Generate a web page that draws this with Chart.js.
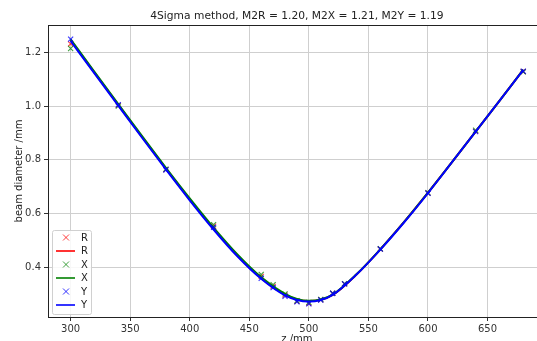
<!DOCTYPE html>
<html>
<head>
<meta charset="utf-8">
<script src="https://cdn.jsdelivr.net/npm/chart.js@4.4.1/dist/chart.umd.min.js"></script>
<style>
  html, body { margin: 0; padding: 0; background: #fff; overflow: hidden; }
  #wrap { width: 551px; height: 350px; }
</style>
</head>
<body>
<div id="wrap"><canvas id="beamChart" width="551" height="350"></canvas></div>
<script>
// ===== Data =====
const zPos = [300, 340, 380, 420, 460, 470, 480, 490, 500, 510, 520, 530, 560, 600, 640, 680];
const measR = [1.232, 1.003, 0.763, 0.552, 0.365, 0.328, 0.295, 0.272, 0.265, 0.278, 0.302, 0.337, 0.467, 0.676, 0.907, 1.129];
const measX = [1.215, 1.000, 0.765, 0.558, 0.372, 0.334, 0.300, 0.274, 0.268, 0.279, 0.302, 0.338, 0.468, 0.677, 0.910, 1.128];
const measY = [1.250, 1.005, 0.762, 0.548, 0.358, 0.323, 0.291, 0.270, 0.263, 0.277, 0.302, 0.337, 0.467, 0.675, 0.905, 1.130];

const zFit = [300, 320, 340, 360, 380, 400, 420, 440, 460, 480, 490, 500, 510, 520, 540, 560, 580, 600, 620, 640, 660, 680];
const fitR = [1.246, 1.125, 1.005, 0.885, 0.767, 0.652, 0.543, 0.443, 0.358, 0.297, 0.279, 0.273, 0.278, 0.296, 0.372, 0.466, 0.568, 0.677, 0.790, 0.905, 1.020, 1.136];
const fitX = [1.249, 1.128, 1.008, 0.888, 0.770, 0.656, 0.547, 0.447, 0.362, 0.300, 0.281, 0.274, 0.279, 0.297, 0.373, 0.466, 0.568, 0.677, 0.790, 0.905, 1.020, 1.136];
const fitY = [1.243, 1.122, 1.002, 0.882, 0.764, 0.649, 0.540, 0.440, 0.356, 0.294, 0.277, 0.271, 0.277, 0.296, 0.372, 0.465, 0.567, 0.676, 0.790, 0.905, 1.020, 1.135];

const xTicks = [300, 350, 400, 450, 500, 550, 600, 650];
const yTicks = [0.4, 0.6, 0.8, 1.0, 1.2];

const titleText = '4Sigma method, M2R = 1.20, M2X = 1.21, M2Y = 1.19';

const RED = '#ff0000', GREEN = '#008000', BLUE = '#0000ff';
const RED_M = 'rgba(255,0,0,0.75)', GREEN_M = 'rgba(0,128,0,0.75)', BLUE_M = 'rgba(0,0,255,0.8)';

const pts = (xs, ys) => xs.map((x, i) => ({ x, y: ys[i] }));

const markerSet = (label, ys, color, order) => ({
    label, data: pts(zPos, ys), showLine: false,
    pointStyle: 'crossRot', pointRadius: 3.6, pointBorderWidth: 1.1,
    borderColor: color, backgroundColor: color, order
});
const lineSet = (label, ys, color, order) => ({
    label, data: pts(zFit, ys), showLine: true, pointRadius: 0,
    borderColor: color, borderWidth: 2, cubicInterpolationMode: 'monotone', order
});

// ===== Extra drawing: title, top spine, legend box =====
const decor = {
    id: 'decor',
    afterDraw(chart) {
        const { ctx, chartArea: a } = chart;
        ctx.save();
        // top spine
        ctx.strokeStyle = '#222';
        ctx.lineWidth = 1;
        ctx.beginPath();
        ctx.moveTo(a.left, a.top + 0.5);
        ctx.lineTo(a.right, a.top + 0.5);
        ctx.stroke();

        // title
        ctx.fillStyle = '#222';
        ctx.font = '10.7px "DejaVu Sans"';
        ctx.textAlign = 'center';
        ctx.textBaseline = 'middle';
        ctx.fillText(titleText, (a.left + a.right) / 2, 16.5);

        // legend
        const bx = 52, by = 230, bw = 39, bh = 84;
        ctx.fillStyle = 'rgba(255,255,255,0.85)';
        ctx.strokeStyle = '#d0d0d0';
        ctx.beginPath();
        ctx.roundRect(bx + 0.5, by + 0.5, bw, bh, 2);
        ctx.fill();
        ctx.stroke();

        const entries = [
            ['R', RED_M, 'marker'], ['R', RED, 'line'],
            ['X', GREEN_M, 'marker'], ['X', GREEN, 'line'],
            ['Y', BLUE_M, 'marker'], ['Y', BLUE, 'line']
        ];
        ctx.font = '10px "DejaVu Sans"';
        ctx.textAlign = 'left';
        entries.forEach(([txt, col, kind], i) => {
            const y = 237.5 + i * 13.5;
            ctx.strokeStyle = col;
            if (kind === 'marker') {
                ctx.lineWidth = 1;
                ctx.beginPath();
                ctx.moveTo(63, y - 3); ctx.lineTo(69, y + 3);
                ctx.moveTo(69, y - 3); ctx.lineTo(63, y + 3);
                ctx.stroke();
            } else {
                ctx.lineWidth = 1.6;
                ctx.beginPath();
                ctx.moveTo(56, y); ctx.lineTo(75, y);
                ctx.stroke();
            }
            ctx.fillStyle = '#222';
            ctx.fillText(txt, 81, y + 0.5);
        });
        ctx.restore();
    }
};

Chart.defaults.font.family = '"DejaVu Sans", sans-serif';
Chart.defaults.font.size = 10;
Chart.defaults.color = '#333';

new Chart(document.getElementById('beamChart'), {
    type: 'scatter',
    data: {
        datasets: [
            markerSet('R', measR, RED_M, 5),
            lineSet('R', fitR, RED, 4),
            markerSet('X', measX, GREEN_M, 3),
            lineSet('X', fitX, GREEN, 2),
            markerSet('Y', measY, BLUE_M, 1),
            lineSet('Y', fitY, BLUE, 0)
        ]
    },
    options: {
        responsive: false,
        animation: false,
        layout: { padding: { top: 25, right: 2, left: 0, bottom: 0 } },
        plugins: {
            legend: { display: false },
            title: { display: false },
            tooltip: { enabled: false }
        },
        scales: {
            x: {
                type: 'linear', min: 281, max: 699,
                afterBuildTicks: s => { s.ticks = xTicks.map(v => ({ value: v })); },
                afterFit: s => { s.height = 33; },
                grid: { color: '#cfcfcf', tickColor: '#333', tickLength: 4 },
                border: { color: '#222', width: 1 },
                ticks: { padding: 2, color: '#333', maxRotation: 0 },
                title: { display: true, text: 'z /mm', color: '#222', padding: { top: 0, bottom: 5 } }
            },
            y: {
                type: 'linear', min: 0.2136, max: 1.3026,
                afterBuildTicks: s => { s.ticks = yTicks.map(v => ({ value: v })); },
                afterFit: s => { s.width = 48; },
                grid: { color: '#cfcfcf', tickColor: '#333', tickLength: 4 },
                border: { color: '#222', width: 1 },
                ticks: { padding: 3, color: '#333', callback: v => v.toFixed(1) },
                title: { display: true, text: 'beam diameter /mm', color: '#222', padding: { top: 13, bottom: 0 } }
            }
        }
    },
    plugins: [decor]
});
</script>
</body>
</html>
